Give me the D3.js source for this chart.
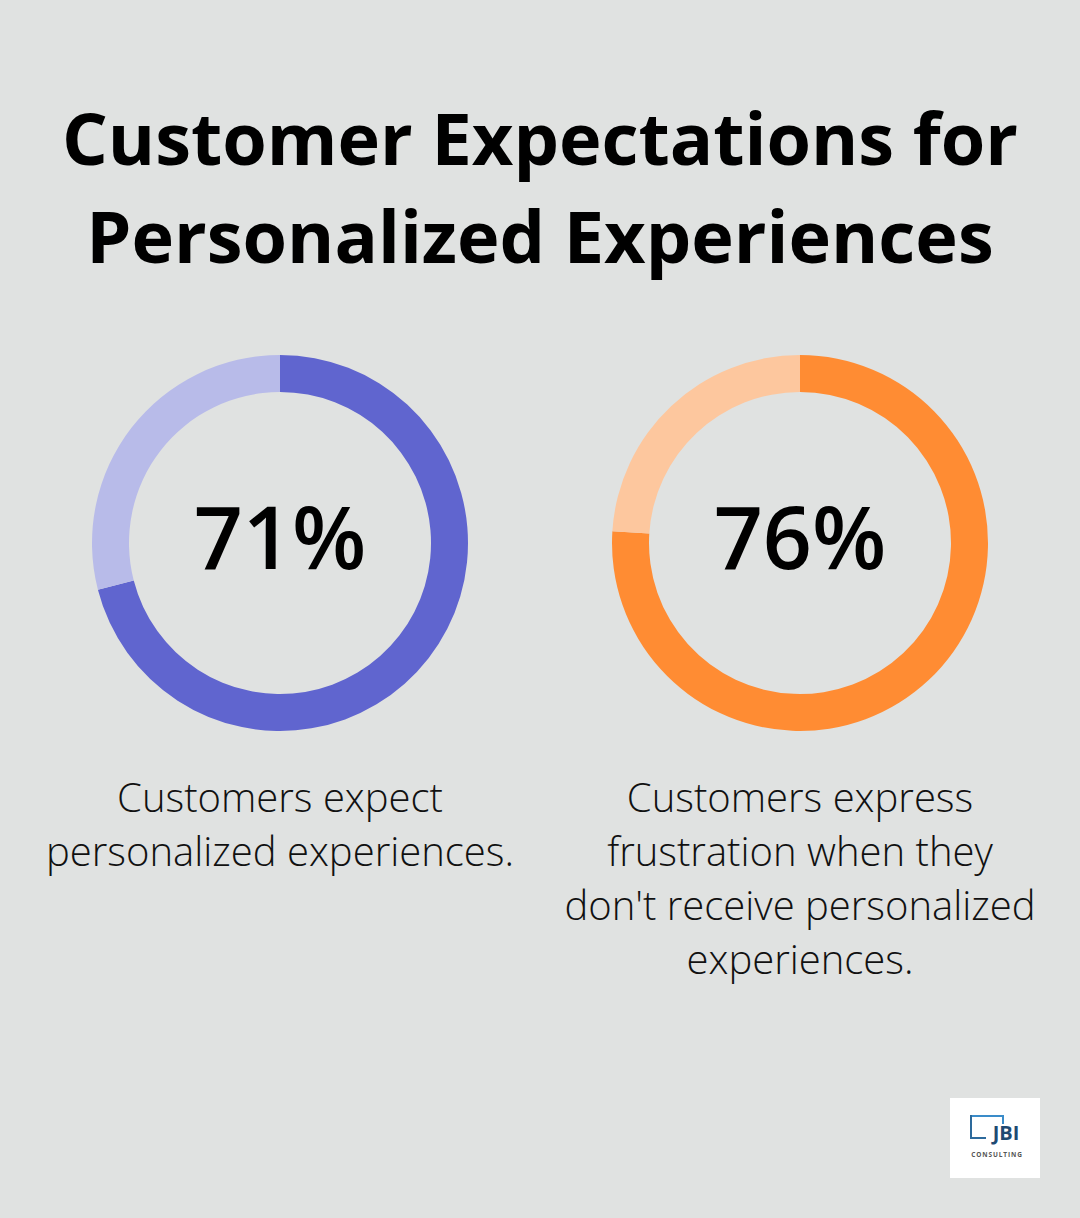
<!DOCTYPE html>
<html>
<head>
<meta charset="utf-8">
<script src="https://cdn.jsdelivr.net/npm/d3@7"></script>
<style>
  body { margin: 0; background: #e0e2e1; }
  svg text { font-family: "Open Sans", sans-serif; }
</style>
</head>
<body>
<svg id="chart" width="1080" height="1218"></svg>
<script>
// data
var titleLines = ["Customer Expectations for", "Personalized Experiences"];
var percents = [71, 76];
var labels = [
  ["Customers expect", "personalized experiences."],
  ["Customers express", "frustration when they", "don't receive personalized", "experiences."]
];
var darkColors = ["#6065cf", "#ff8c33"];
var lightColors = ["#b8bbe9", "#fdc79e"];

var svg = d3.select("#chart");

svg.append("rect").attr("width", 1080).attr("height", 1218).attr("fill", "#e0e2e1");

// title
svg.selectAll("text.title")
  .data(titleLines)
  .enter().append("text")
  .attr("class", "title")
  .attr("x", 540)
  .attr("y", function(d, i){ return 165 + i * 98; })
  .attr("text-anchor", "middle")
  .style("font-size", "72px")
  .style("font-weight", 700)
  .attr("fill", "#000")
  .text(function(d){ return d; });

var x = d3.scalePoint().domain(d3.range(percents.length)).range([280, 800]);
var cy = 543;
var arc = d3.arc().innerRadius(151).outerRadius(188);
var pie = d3.pie().sort(null).value(function(d){ return d; });

percents.forEach(function(p, i){
  var g = svg.append("g").attr("transform", "translate(" + x(i) + "," + cy + ")");
  g.selectAll("path")
    .data(pie([p, 100 - p]))
    .enter().append("path")
    .attr("d", arc)
    .attr("fill", function(d, j){ return j == 0 ? darkColors[i] : lightColors[i]; });

  g.append("text")
    .attr("text-anchor", "middle")
    .attr("y", 26)
    .style("font-size", "86px")
    .style("font-weight", 600)
    .attr("fill", "#000")
    .text(p + "%");

  svg.selectAll("text.lab" + i)
    .data(labels[i])
    .enter().append("text")
    .attr("class", "lab" + i)
    .attr("x", x(i))
    .attr("y", function(d, k){ return 812 + k * 54; })
    .attr("text-anchor", "middle")
    .style("font-size", "40px")
    .style("font-weight", 300)
    .attr("fill", "#111")
    .text(function(d){ return d; });
});

// logo
var logo = svg.append("g").attr("transform", "translate(950,1098)");
logo.append("rect").attr("width", 90).attr("height", 80).attr("fill", "#fff");
logo.append("path")
  .attr("d", "M21,18 L53,18 L53,26")
  .attr("fill", "none").attr("stroke", "#3a8cc9").attr("stroke-width", 2);
logo.append("path")
  .attr("d", "M21,17 L21,40 L36,40")
  .attr("fill", "none").attr("stroke", "#2d6a9c").attr("stroke-width", 2);
logo.append("text")
  .attr("x", 56).attr("y", 42)
  .attr("text-anchor", "middle")
  .style("font-size", "20px").style("font-weight", 700)
  .attr("fill", "#1f4a72")
  .text("JBI");
logo.append("text")
  .attr("x", 47).attr("y", 59)
  .attr("text-anchor", "middle")
  .style("font-size", "6.5px").style("font-weight", 700)
  .style("letter-spacing", "0.9px")
  .attr("fill", "#555")
  .text("CONSULTING");
</script>
</body>
</html>
